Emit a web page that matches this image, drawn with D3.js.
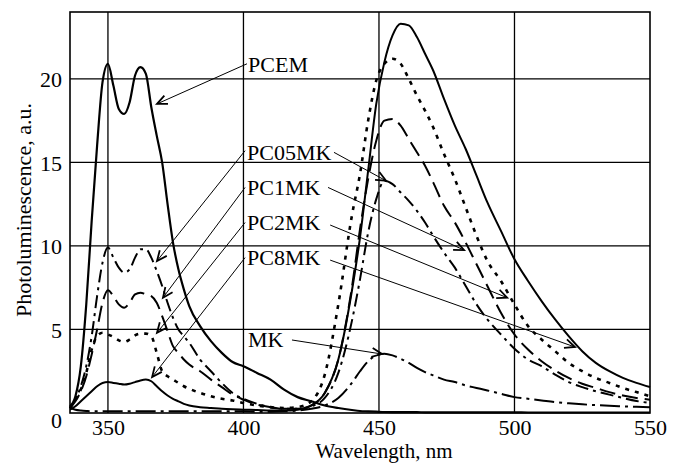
<!DOCTYPE html>
<html>
<head>
<meta charset="utf-8">
<script src="https://cdn.jsdelivr.net/npm/d3@7"></script>
<style>
  html, body { margin: 0; padding: 0; background: #fff; }
  svg text { font-family: "Liberation Serif", "Times New Roman", serif; fill: #000; }
</style>
</head>
<body>
<svg id="chart" width="673" height="464"></svg>
<script>
// ---------------- data ----------------
const wavelengths = [336,338,340,342,344,346,348,350,352,354,
  356,358,360,362,364,366,368,370,372,374,
  376,378,380,384,388,392,396,400,405,410,
  415,420,425,430,435,440,443,446,449,452,
  455,458,461,464,467,470,474,478,482,486,
  490,495,500,505,510,515,520,525,530,535,
  540,545,550];

const pcem = [0.4,1.0,2.8,6.5,11.5,16.0,19.8,20.9,19.6,18.2,
  17.9,18.6,20.2,20.7,20.3,18.3,16.6,15.0,12.5,10.2,
  8.6,7.4,6.4,5.2,4.3,3.6,3.05,2.8,2.4,2.0,
  1.4,0.95,0.7,0.45,0.3,0.18,0.12,0.1,0.08,0.06,
  0.05,0.05,0.05,0.05,0.04,0.04,0.04,0.04,0.04,0.04,
  0.04,0.04,0.04,0.03,0.03,0.03,0.03,0.03,0.03,0.03,
  0.03,0.03,0.03];

const pc05mk = [0.3,0.8,1.6,2.8,4.6,7.0,9.0,9.9,9.3,8.7,
  8.4,8.6,9.3,9.8,9.8,9.3,8.5,7.6,6.6,5.7,
  5.0,4.6,4.2,3.2,2.5,1.8,1.2,0.85,0.55,0.35,
  0.25,0.25,0.4,0.9,2.4,5.5,8.0,10.8,12.8,13.9,
  13.7,13.2,12.7,12.1,11.4,10.6,9.6,8.7,7.6,6.5,
  5.6,4.7,3.85,3.2,2.8,2.3,1.85,1.55,1.3,1.1,
  0.9,0.72,0.6];

const pc1mk = [0.3,0.7,1.3,2.2,3.5,5.0,6.6,7.35,7.0,6.5,
  6.3,6.6,7.1,7.2,7.1,7.0,6.6,5.8,4.9,4.0,
  3.6,3.2,2.9,2.5,2.0,1.55,1.1,0.8,0.5,0.35,
  0.25,0.25,0.45,1.2,3.2,7.5,11.0,14.0,16.3,17.5,
  17.6,17.2,16.4,15.6,14.8,13.8,12.4,11.4,10.2,8.9,
  7.6,6.0,4.7,3.8,3.1,2.55,2.1,1.75,1.5,1.25,
  1.05,0.9,0.8];

const pc2mk = [0.3,0.8,1.4,2.4,3.8,4.6,4.8,4.7,4.55,4.35,
  4.25,4.4,4.65,4.75,4.75,4.6,3.6,2.5,2.2,2.0,
  1.8,1.6,1.45,1.2,1.0,0.85,0.75,0.6,0.45,0.35,
  0.3,0.35,0.7,2.3,6.5,11.8,14.3,17.5,19.9,20.9,
  21.2,20.9,20.0,19.0,18.1,17.1,15.5,14.0,12.3,10.6,
  9.1,7.9,6.5,5.2,4.4,3.7,3.0,2.5,2.1,1.8,
  1.5,1.25,1.0];

const pc8mk = [0.2,0.4,0.7,1.0,1.3,1.6,1.8,1.85,1.8,1.75,
  1.7,1.75,1.85,1.95,2.0,1.9,1.6,1.3,1.05,0.85,
  0.7,0.55,0.45,0.35,0.3,0.25,0.22,0.2,0.18,0.15,
  0.15,0.2,0.45,1.2,3.2,7.3,10.5,14.5,18.5,21.0,
  22.6,23.3,23.2,22.5,21.5,20.5,18.8,17.2,15.8,14.2,
  12.6,10.9,9.2,7.9,6.7,5.6,4.6,3.7,3.0,2.5,
  2.1,1.8,1.55];

const mk = [0.3,0.2,0.15,0.12,0.1,0.1,0.1,0.1,0.1,0.1,
  0.1,0.1,0.1,0.1,0.1,0.1,0.1,0.1,0.1,0.1,
  0.1,0.1,0.1,0.1,0.1,0.1,0.1,0.1,0.08,0.08,
  0.1,0.15,0.25,0.45,0.9,1.8,2.5,3.1,3.45,3.55,
  3.45,3.25,3.0,2.7,2.45,2.25,2.0,1.85,1.65,1.5,
  1.35,1.15,0.95,0.85,0.75,0.65,0.58,0.52,0.47,0.43,
  0.4,0.37,0.35];

const xTicks = [350, 400, 450, 500, 550];
const yTicks = [0, 5, 10, 15, 20];

// annotation labels: text, anchor wavelength, anchor value (baseline)
const labelNames = ["PCEM", "PC05MK", "PC1MK", "PC2MK", "PC8MK", "MK"];
const labelX = [401.7, 401.3, 401.3, 401.3, 401.3, 401.7];
const labelY = [20.4, 15.13, 13.04, 10.95, 8.85, 3.95];

// arrows: [fromλ, fromV, toλ, toV]
const arrows = [
  [401.3, 20.9, 368.1, 18.5],
  [400.6, 15.7, 368.1, 9.1],
  [433.4, 15.6, 452.6, 13.9],
  [400.6, 13.5, 370.3, 6.9],
  [431.2, 13.5, 481.4, 9.75],
  [400.6, 11.4, 368.1, 4.8],
  [432.0, 11.25, 497.3, 6.9],
  [400.6, 9.3, 366.3, 2.15],
  [432.0, 9.15, 522.3, 3.95],
  [417.9, 4.37, 451.1, 3.53]
];

// ---------------- chart ----------------
const series = [
  {name: "PCEM",   values: pcem},
  {name: "PC05MK", values: pc05mk},
  {name: "PC1MK",  values: pc1mk},
  {name: "PC2MK",  values: pc2mk},
  {name: "PC8MK",  values: pc8mk},
  {name: "MK",     values: mk}
];
const styles = {
  PCEM:   {dash: null,          width: 2.2},
  PC05MK: {dash: "13,5,3,5",    width: 2.0},
  PC1MK:  {dash: "16,7",        width: 2.0},
  PC2MK:  {dash: "4,6",         width: 2.6},
  PC8MK:  {dash: null,          width: 2.0},
  MK:     {dash: "20,5,3,5",    width: 2.0}
};

const svg = d3.select("#chart");
const mLeft = 70, mRight = 650, mTop = 12, mBottom = 413;
const x = d3.scaleLinear().domain([336, 550]).range([mLeft, mRight]);
const y = d3.scaleLinear().domain([0, 24]).range([mBottom, mTop]);
const FS = 22;

// grid
const grid = svg.append("g").attr("stroke", "#000").attr("stroke-width", 1.3);
grid.selectAll("line.v").data(xTicks.filter(t => t < 550)).join("line")
  .attr("class", "v")
  .attr("x1", d => x(d)).attr("x2", d => x(d))
  .attr("y1", mTop).attr("y2", mBottom);
grid.selectAll("line.h").data(yTicks.filter(t => t > 0)).join("line")
  .attr("class", "h")
  .attr("x1", mLeft).attr("x2", mRight)
  .attr("y1", d => y(d)).attr("y2", d => y(d));
// border
svg.append("rect").attr("x", mLeft).attr("y", mTop)
  .attr("width", mRight - mLeft).attr("height", mBottom - mTop)
  .attr("fill", "none").attr("stroke", "#000").attr("stroke-width", 1.6);

// axes via d3 (tick text only)
const xAxis = svg.append("g").attr("transform", `translate(0,${mBottom})`)
  .call(d3.axisBottom(x).tickValues(xTicks).tickSize(0).tickPadding(0).tickFormat(d3.format("d")));
xAxis.select(".domain").remove();
xAxis.selectAll("text").attr("font-size", FS).attr("dy", null).attr("y", 22)
  .attr("font-family", "Liberation Serif");

const yAxis = svg.append("g").attr("transform", `translate(${mLeft},0)`)
  .call(d3.axisLeft(y).tickValues(yTicks).tickSize(0).tickPadding(8).tickFormat(d3.format("d")));
yAxis.select(".domain").remove();
yAxis.selectAll("text").attr("font-size", FS).attr("font-family", "Liberation Serif")
  .attr("dy", d => d === 0 ? "0.65em" : "0.35em");

// axis titles
svg.append("text").attr("x", 384).attr("y", 458).attr("text-anchor", "middle")
  .attr("font-size", 21).text("Wavelength, nm");
svg.append("text").attr("transform", "translate(31,210) rotate(-90)")
  .attr("text-anchor", "middle").attr("font-size", FS).text("Photoluminescence, a.u.");

// curves
const line = d3.line().x((d, i) => x(wavelengths[i])).y(d => y(d)).curve(d3.curveMonotoneX);
svg.append("g").selectAll("path").data(series).join("path")
  .attr("d", d => line(d.values))
  .attr("fill", "none").attr("stroke", "#000")
  .attr("stroke-width", d => styles[d.name].width)
  .attr("stroke-dasharray", d => styles[d.name].dash)
  .attr("stroke-linejoin", "round");

// labels
svg.append("g").selectAll("text").data(labelNames).join("text")
  .attr("x", (d, i) => x(labelX[i])).attr("y", (d, i) => y(labelY[i]))
  .attr("font-size", FS).text(d => d);

// arrows
const ag = svg.append("g").attr("stroke", "#000").attr("fill", "none");
arrows.forEach(a => {
  const x1 = x(a[0]), y1 = y(a[1]), x2 = x(a[2]), y2 = y(a[3]);
  ag.append("line").attr("x1", x1).attr("y1", y1).attr("x2", x2).attr("y2", y2)
    .attr("stroke-width", 1);
  const ang = Math.atan2(y2 - y1, x2 - x1), L = 11, h = 0.42;
  const p1 = [x2 - L * Math.cos(ang - h), y2 - L * Math.sin(ang - h)];
  const p2 = [x2 - L * Math.cos(ang + h), y2 - L * Math.sin(ang + h)];
  ag.append("path").attr("d", `M${p1[0]},${p1[1]}L${x2},${y2}L${p2[0]},${p2[1]}`)
    .attr("stroke-width", 1.8);
});
</script>
</body>
</html>
